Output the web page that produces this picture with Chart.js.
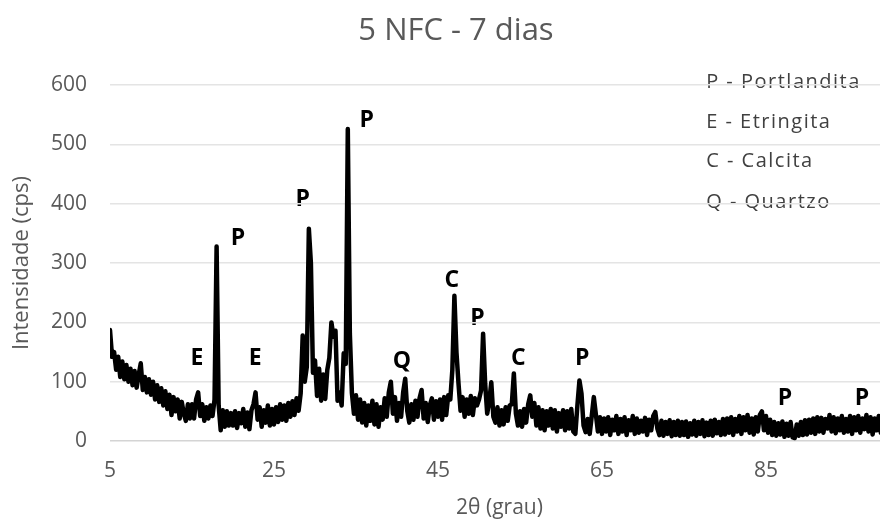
<!DOCTYPE html>
<html>
<head>
<meta charset="utf-8">
<script src="https://cdn.jsdelivr.net/npm/chart.js@4.4.1/dist/chart.umd.min.js"></script>
<style>
  html, body { margin: 0; padding: 0; background: #fff; overflow: hidden; }
  #wrap { width: 912px; height: 527px; }
</style>
</head>
<body>
<div id="wrap"><canvas id="xrd"></canvas></div>
<script>
// Step scan: 2θ from 5° in 0.25° steps
const scanStart = 5;
const scanStep = 0.25;

// Counts (cps), one row per 5° of 2θ
const intensity = [
  187, 142, 150, 120, 142, 108, 134, 104, 128, 100, 122, 94, 118, 90, 112, 131, 86, 108, 82, 104,     // 5
  78, 100, 70, 94, 66, 89, 60, 84, 54, 78, 44, 74, 50, 70, 38, 66, 46, 34, 62, 38,                    // 10
  62, 38, 70, 82, 42, 62, 34, 57, 38, 60, 42, 70, 328, 60, 18, 52, 24, 50, 26, 47,                    // 15
  26, 50, 22, 47, 30, 54, 24, 48, 20, 52, 62, 82, 36, 57, 24, 52, 31, 60, 26, 54,                     // 20
  28, 57, 32, 62, 36, 60, 34, 64, 41, 67, 44, 72, 51, 80, 178, 100, 125, 358, 300, 115,               // 25
  136, 76, 122, 68, 112, 71, 120, 140, 200, 176, 186, 68, 82, 60, 148, 130, 526, 181, 81, 46,         // 30
  77, 36, 70, 31, 64, 26, 60, 34, 68, 28, 62, 24, 57, 36, 72, 41, 82, 100, 46, 74,                    // 35
  34, 64, 41, 82, 105, 51, 31, 62, 36, 68, 41, 72, 86, 38, 64, 32, 60, 72, 36, 67,                    // 40
  41, 70, 36, 74, 44, 77, 70, 120, 245, 150, 97, 51, 74, 41, 70, 46, 76, 44, 72, 60,                  // 45
  70, 85, 181, 97, 46, 67, 99, 41, 31, 57, 26, 52, 28, 57, 34, 60, 62, 114, 46, 26,                   // 50
  50, 24, 54, 31, 62, 77, 41, 64, 26, 57, 21, 52, 18, 50, 26, 54, 21, 52, 16, 47,                     // 55
  24, 52, 18, 50, 21, 54, 16, 12, 60, 102, 80, 26, 15, 37, 12, 42, 74, 45, 16, 40,                    // 60
  12, 38, 16, 40, 10, 36, 18, 42, 12, 37, 16, 40, 10, 35, 18, 42, 12, 38, 14, 34,                     // 65
  16, 39, 10, 36, 18, 42, 49, 21, 10, 34, 9, 32, 12, 35, 8, 32, 10, 34, 9, 32,                        // 70
  10, 33, 7, 30, 11, 34, 9, 32, 12, 35, 8, 31, 10, 34, 9, 36, 13, 32, 10, 37,                         // 75
  11, 38, 14, 40, 10, 37, 16, 42, 12, 40, 18, 44, 14, 38, 11, 40, 16, 44, 50, 18,                     // 80
  42, 14, 36, 10, 32, 9, 30, 11, 33, 7, 29, 9, 32, 6, 5, 28, 9, 32, 10, 35,                           // 85
  11, 36, 14, 38, 12, 40, 16, 39, 14, 37, 21, 44, 16, 40, 13, 38, 18, 42, 14, 37,                     // 90
  16, 42, 12, 40, 18, 42, 14, 38, 20, 44, 16, 40, 11, 38, 18, 42, 14, 37, 16, 40                      // 95
];

const xTicks = [5, 25, 45, 65, 85];
const yTicks = [0, 100, 200, 300, 400, 500, 600];

// Phase letters over the peaks (2θ, cps)
const peakLetters = ['E', 'P', 'E', 'P', 'P', 'Q', 'C', 'P', 'C', 'P', 'P', 'P'];
const peakAngles  = [15.6, 20.6, 22.7, 28.5, 36.3, 40.6, 46.7, 49.8, 54.8, 62.6, 87.3, 96.7];
const peakHeights = [139, 341, 139, 408, 540, 134, 271, 207, 139, 139, 72, 72];

// Phase key, top right
const keyLines = ['P - Portlandita', 'E - Etringita', 'C - Calcita', 'Q - Quartzo'];
const keyAngle = 77.7;
const keyHeights = [605, 538, 471, 403];

const points = intensity.map((v, i) => ({ x: scanStart + i * scanStep, y: v }));

const FONT = 'Open Sans';
const GREY = '#595959';

// Letters go under the gridlines, like the text boxes in the original workbook
const phaseLabels = {
  id: 'phaseLabels',
  beforeDraw(chart) {
    const { ctx, scales: { x, y } } = chart;
    ctx.save();
    ctx.textBaseline = 'middle';

    ctx.font = `bold 23px "${FONT}"`;
    ctx.fillStyle = '#000';
    ctx.textAlign = 'center';
    peakLetters.forEach((t, i) => {
      ctx.fillText(t, x.getPixelForValue(peakAngles[i]), y.getPixelForValue(peakHeights[i]));
    });

    ctx.font = `20px "${FONT}"`;
    ctx.letterSpacing = '1.5px';
    ctx.fillStyle = '#404040';
    ctx.textAlign = 'left';
    keyLines.forEach((t, i) => {
      ctx.fillText(t, x.getPixelForValue(keyAngle), y.getPixelForValue(keyHeights[i]));
    });
    ctx.restore();
  }
};

new Chart(document.getElementById('xrd'), {
  type: 'line',
  data: {
    datasets: [{
      data: points,
      borderColor: '#000',
      borderWidth: 4.5,
      borderJoinStyle: 'round',
      borderCapStyle: 'round',
      pointRadius: 0,
      tension: 0
    }]
  },
  options: {
    responsive: true,
    maintainAspectRatio: false,
    animation: false,
    layout: { padding: { left: 23, right: 23, top: 0, bottom: 0 } },
    plugins: {
      legend: { display: false },
      tooltip: { enabled: false },
      title: {
        display: true,
        text: '5 NFC - 7 dias',
        color: GREY,
        font: { family: FONT, size: 31, weight: 'normal' },
        padding: { top: 13, bottom: 35 }
      }
    },
    scales: {
      x: {
        type: 'linear',
        min: 5,
        max: 100,
        afterBuildTicks: s => { s.ticks = xTicks.map(v => ({ value: v })); },
        afterFit: s => { s.height = 86; },
        grid: { display: false, drawTicks: false },
        border: { display: false },
        ticks: { color: GREY, font: { family: FONT, size: 21 }, padding: 17, maxRotation: 0 },
        title: {
          display: true,
          text: '2θ (grau)',
          color: GREY,
          font: { family: FONT, size: 21 },
          padding: { top: 0, bottom: 6 }
        }
      },
      y: {
        min: 0,
        max: 600,
        afterBuildTicks: s => { s.ticks = yTicks.map(v => ({ value: v })); },
        afterFit: s => { s.width = 87; },
        grid: {
          color: c => c.tick && c.tick.value === 0 ? '#d4d4d4' : '#e4e4e4',
          lineWidth: 1.5,
          drawTicks: false
        },
        border: { display: false },
        ticks: { color: GREY, font: { family: FONT, size: 21 }, padding: 23 },
        title: {
          display: true,
          text: 'Intensidade (cps)',
          color: GREY,
          font: { family: FONT, size: 22 },
          // pulled left into the outer margin
          padding: { top: -14, bottom: 0 }
        }
      }
    }
  },
  plugins: [phaseLabels]
});
</script>
</body>
</html>
